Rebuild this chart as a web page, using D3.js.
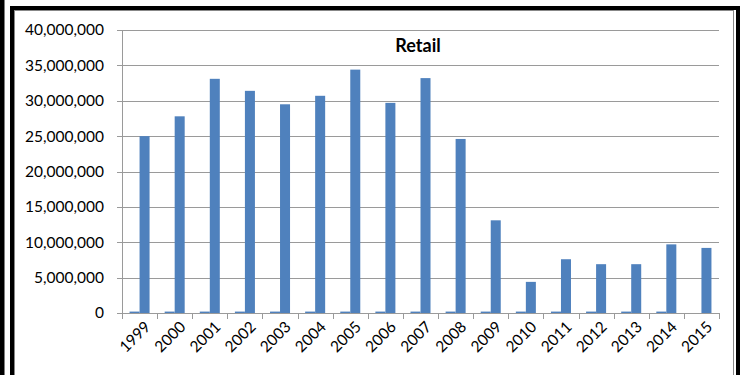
<!DOCTYPE html>
<html><head><meta charset="utf-8">
<script src="https://cdn.jsdelivr.net/npm/d3@7"></script>
<style>body{margin:0;background:#fff}svg{display:block}</style>
</head><body>
<svg id="c" width="740" height="375"></svg>
<script>
const years = ["1999","2000","2001","2002","2003","2004","2005","2006","2007","2008","2009","2010","2011","2012","2013","2014","2015"];
const smallSeries = [200000,200000,200000,200000,200000,200000,200000,200000,200000,200000,200000,200000,200000,200000,200000,200000,0];
const retail = [25000000,27800000,33100000,31400000,29500000,30700000,34400000,29700000,33200000,24600000,13100000,4400000,7600000,6900000,6900000,9700000,9200000];
const yTicks = [0,5000000,10000000,15000000,20000000,25000000,30000000,35000000,40000000];
const title = "Retail";

(function(){
const svg = d3.select("#c");
const font = "Lato, 'Open Sans', sans-serif";
// frames
svg.append("rect").attr("x",0).attr("y",0).attr("width",4.5).attr("height",375).attr("fill","#000");
svg.append("rect").attr("x",12).attr("y",8).attr("width",726).attr("height",380)
  .attr("fill","#fff").attr("stroke","#000").attr("stroke-width",4);
svg.append("rect").attr("x",14.5).attr("y",10.5).attr("width",719).attr("height",380)
  .attr("fill","none").attr("stroke","#888").attr("stroke-width",1);

const pL=122, pR=719, pT=30, pB=313;
const x = d3.scaleBand().domain(years).range([pL,pR]).paddingInner(0).paddingOuter(0);
const y = d3.scaleLinear().domain([0,40000000]).range([pB,pT]);
const groupW = x.bandwidth()*0.57;
const xs = d3.scaleBand().domain(["a","b"]).range([0,groupW]);

// gridlines
svg.append("g").selectAll("line").data(yTicks).join("line")
  .attr("x1",pL-5).attr("x2",pR).attr("y1",d=>Math.round(y(d))+0.5).attr("y2",d=>Math.round(y(d))+0.5)
  .attr("stroke","#9a9a9a").attr("stroke-width",1);
// y labels
svg.append("g").selectAll("text").data(yTicks).join("text")
  .attr("x",104).attr("y",d=>y(d)).attr("dy","0.35em").attr("text-anchor","end")
  .attr("font-family",font).attr("font-size",15.5).attr("fill","#000")
  .text(d=>d3.format(",")(d));
// y axis line
svg.append("line").attr("x1",pL+0.5).attr("x2",pL+0.5).attr("y1",pT).attr("y2",pB+1).attr("stroke","#9a9a9a");

// bars
const g = svg.append("g");
g.selectAll("rect.s").data(years).join("rect").attr("class","s")
  .attr("x",(d,i)=>x(d)+(x.bandwidth()-groupW)/2+xs("a")).attr("width",xs.bandwidth())
  .attr("y",(d,i)=>y(smallSeries[i])).attr("height",(d,i)=>pB-y(smallSeries[i]))
  .attr("fill","#4F81BD");
g.selectAll("rect.r").data(years).join("rect").attr("class","r")
  .attr("x",(d,i)=>x(d)+(x.bandwidth()-groupW)/2+xs("b")).attr("width",xs.bandwidth())
  .attr("y",(d,i)=>y(retail[i])).attr("height",(d,i)=>pB-y(retail[i]))
  .attr("fill","#4F81BD");

// x axis
svg.append("line").attr("x1",pL).attr("x2",pR+1).attr("y1",pB+0.5).attr("y2",pB+0.5).attr("stroke","#9a9a9a");
const bounds = years.map(d=>x(d)).concat([pR]);
svg.append("g").selectAll("line").data(bounds).join("line")
  .attr("x1",d=>Math.round(d)+0.5).attr("x2",d=>Math.round(d)+0.5).attr("y1",pB).attr("y2",pB+6).attr("stroke","#9a9a9a");
svg.append("g").selectAll("text").data(years).join("text")
  .attr("transform",d=>`translate(${x(d)+x.bandwidth()/2+8},${pB+11}) rotate(-45)`)
  .attr("text-anchor","end").attr("dy","0.35em")
  .attr("font-family",font).attr("font-size",15.5).attr("fill","#000").text(d=>d);

svg.append("text").attr("x",418).attr("y",52).attr("text-anchor","middle")
  .attr("font-family",font).attr("font-weight","bold").attr("font-size",18).text(title);
})();
</script>
</body></html>
